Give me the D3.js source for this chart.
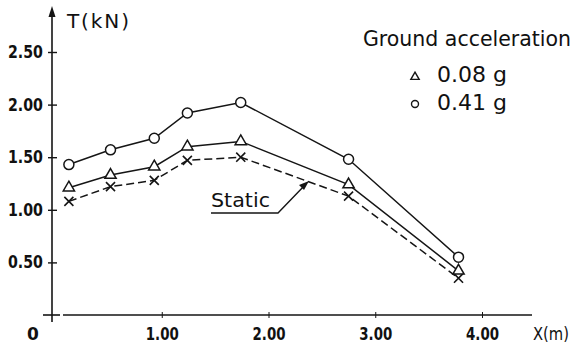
<!DOCTYPE html>
<html>
<head>
<meta charset="utf-8">
<script src="https://cdn.jsdelivr.net/npm/d3@7"></script>
<style>
  body { margin: 0; background: #fff; }
  svg { display: block; }
  text { font-family: "DejaVu Sans", sans-serif; fill: #111; }
</style>
</head>
<body>
<svg width="576" height="347"></svg>
<script>
// values
const xPos = [0.13, 0.52, 0.93, 1.24, 1.74, 2.75, 3.78];
const acc041 = [1.43, 1.57, 1.68, 1.92, 2.02, 1.48, 0.55];
const acc008 = [1.21, 1.33, 1.41, 1.60, 1.65, 1.24, 0.42];
const staticT = [1.08, 1.22, 1.28, 1.47, 1.50, 1.13, 0.35];
const xTicks = [1, 2, 3, 4];
const yTicks = [0.5, 1, 1.5, 2, 2.5];

const svg = d3.select('svg');
const ink = '#151515';

const x = d3.scaleLinear().domain([0, 4]).range([55, 482]);
const y = d3.scaleLinear().domain([0, 2.5]).range([315, 52]);
const axisX = 52;

// y axis with crossing ticks
const gy = svg.append('g')
    .attr('transform', `translate(${axisX},0)`)
    .call(d3.axisLeft(y).tickValues(yTicks).tickSize(4).tickPadding(5)
        .tickFormat(d3.format('.2f')));
gy.select('.domain').remove();
gy.selectAll('.tick line').attr('x1', 5).attr('x2', -4)
    .attr('stroke', ink).attr('stroke-width', 1.4);
gy.selectAll('.tick text')
    .style('font-size', '17px').style('font-weight', '600')
    .attr('fill', ink).attr('textLength', 35).attr('lengthAdjust', 'spacingAndGlyphs');

svg.append('line')
    .attr('x1', axisX).attr('x2', axisX)
    .attr('y1', 322).attr('y2', 14)
    .attr('stroke', ink).attr('stroke-width', 1.6);
svg.append('path')
    .attr('d', `M${axisX},6 L${axisX - 3.5},17 L${axisX + 3.5},17 Z`)
    .attr('fill', ink);
svg.append('line')
    .attr('x1', 43).attr('x2', 60).attr('y1', y(0)).attr('y2', y(0))
    .attr('stroke', ink).attr('stroke-width', 1.6);

// x axis
const gx = svg.append('g')
    .attr('transform', `translate(0,${y(0)})`)
    .call(d3.axisBottom(x).tickValues(xTicks).tickSize(3).tickPadding(10)
        .tickFormat(d3.format('.2f')));
gx.select('.domain').remove();
gx.selectAll('.tick line').attr('y1', -3).attr('y2', 3)
    .attr('stroke', ink).attr('stroke-width', 1);
gx.selectAll('.tick text')
    .style('font-size', '17px').style('font-weight', '600')
    .attr('fill', ink).attr('textLength', 33).attr('lengthAdjust', 'spacingAndGlyphs');
svg.append('line')
    .attr('x1', 63).attr('x2', 532).attr('y1', y(0)).attr('y2', y(0))
    .attr('stroke', ink).attr('stroke-width', 1.6);

svg.append('text').attr('x', 33).attr('y', 340).attr('text-anchor', 'middle')
    .style('font-size', '17px').style('font-weight', '600').text('0');
svg.append('text').attr('x', 533).attr('y', 340)
    .style('font-size', '18px').attr('textLength', 36).attr('lengthAdjust', 'spacingAndGlyphs')
    .text('X(m)');
svg.append('text').attr('x', 67).attr('y', 28)
    .style('font-size', '20px').attr('textLength', 62).attr('lengthAdjust', 'spacing')
    .text('T(kN)');

// series
const line = d3.line().x((d, i) => x(xPos[i])).y(d => y(d));

svg.append('path').datum(staticT).attr('d', line)
    .attr('fill', 'none').attr('stroke', ink).attr('stroke-width', 1.5)
    .attr('stroke-dasharray', '8,4');
svg.append('path').datum(acc008).attr('d', line)
    .attr('fill', 'none').attr('stroke', ink).attr('stroke-width', 1.5);
svg.append('path').datum(acc041).attr('d', line)
    .attr('fill', 'none').attr('stroke', ink).attr('stroke-width', 1.5);

const crossSym = d3.symbol().type(d3.symbolX).size(55);
svg.selectAll('.cross').data(staticT).enter().append('path')
    .attr('class', 'cross')
    .attr('transform', (d, i) => `translate(${x(xPos[i])},${y(d)})`)
    .attr('d', crossSym).attr('fill', 'none').attr('stroke', ink).attr('stroke-width', 1.6);

const triSym = d3.symbol().type(d3.symbolTriangle).size(55);
svg.selectAll('.tri').data(acc008).enter().append('path')
    .attr('class', 'tri')
    .attr('transform', (d, i) => `translate(${x(xPos[i])},${y(d)})`)
    .attr('d', triSym).attr('fill', '#fff').attr('stroke', ink).attr('stroke-width', 1.5);

svg.selectAll('.circ').data(acc041).enter().append('circle')
    .attr('class', 'circ')
    .attr('cx', (d, i) => x(xPos[i])).attr('cy', d => y(d)).attr('r', 5)
    .attr('fill', '#fff').attr('stroke', ink).attr('stroke-width', 1.5);

// "Static" annotation
svg.append('text').attr('x', 211).attr('y', 207)
    .style('font-size', '20px').attr('textLength', 59).attr('lengthAdjust', 'spacingAndGlyphs')
    .text('Static');
svg.append('path')
    .attr('d', 'M211,213 L278,213 L305,185')
    .attr('fill', 'none').attr('stroke', ink).attr('stroke-width', 1.4);
svg.append('path')
    .attr('d', 'M309,181 L299,185 L304,190 Z').attr('fill', ink);

// legend
svg.append('text').attr('x', 571).attr('y', 46).attr('text-anchor', 'end')
    .style('font-size', '21px').attr('textLength', 208).attr('lengthAdjust', 'spacingAndGlyphs')
    .text('Ground acceleration');
svg.append('path')
    .attr('transform', 'translate(415,77)')
    .attr('d', d3.symbol().type(d3.symbolTriangle).size(30))
    .attr('fill', 'none').attr('stroke', ink).attr('stroke-width', 1.4);
svg.append('circle').attr('cx', 415).attr('cy', 104).attr('r', 3.5)
    .attr('fill', 'none').attr('stroke', ink).attr('stroke-width', 1.4);
svg.append('text').attr('x', 437).attr('y', 82)
    .style('font-size', '21px').attr('textLength', 70).attr('lengthAdjust', 'spacingAndGlyphs')
    .text('0.08 g');
svg.append('text').attr('x', 437).attr('y', 110)
    .style('font-size', '21px').attr('textLength', 70).attr('lengthAdjust', 'spacingAndGlyphs')
    .text('0.41 g');
</script>
</body>
</html>
